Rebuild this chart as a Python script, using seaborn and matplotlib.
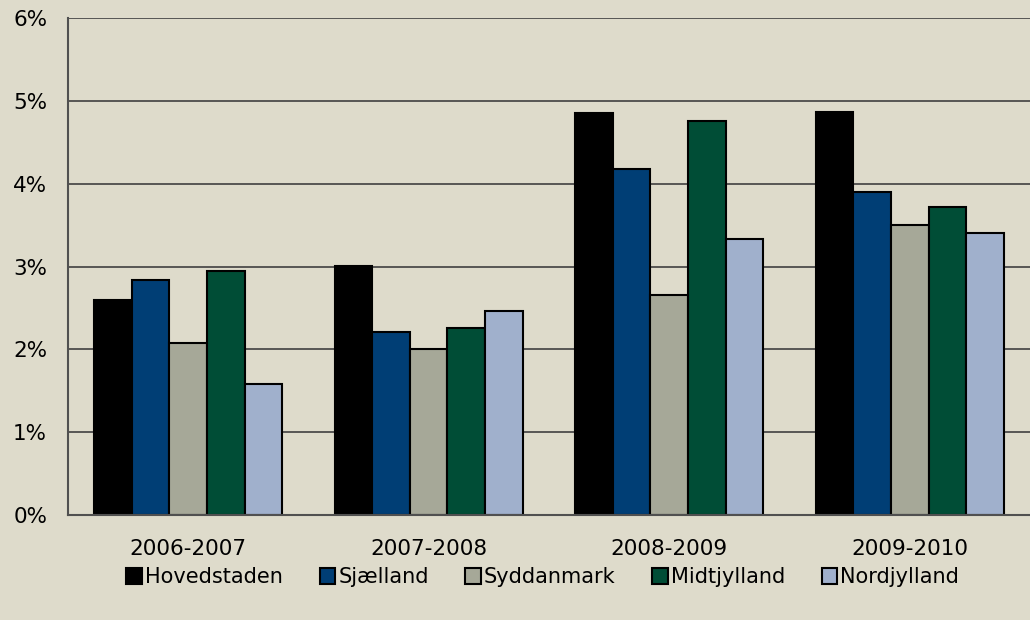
import matplotlib
matplotlib.use("Agg")
import matplotlib.pyplot as plt
from matplotlib.ticker import FuncFormatter, FixedLocator
import seaborn as sns
import pandas as pd

# values (percent)
periods = ["2006-2007", "2007-2008", "2008-2009", "2009-2010"]
regions = ["Hovedstaden", "Sjælland", "Syddanmark", "Midtjylland", "Nordjylland"]
hovedstaden = [2.60, 3.01, 4.85, 4.86]
sjaelland = [2.84, 2.21, 4.18, 3.90]
syddanmark = [2.08, 2.00, 2.66, 3.50]
midtjylland = [2.95, 2.26, 4.76, 3.72]
nordjylland = [1.58, 2.47, 3.33, 3.40]
colors = ["#000000", "#003E75", "#A6A898", "#004D36", "#A0B0CC"]

series = [hovedstaden, sjaelland, syddanmark, midtjylland, nordjylland]
rows = []
for reg, vals in zip(regions, series):
    for p, v in zip(periods, vals):
        rows.append({"period": p, "region": reg, "value": v})
df = pd.DataFrame(rows)

bg = "#DEDBCB"
sns.set_style("white")
plt.rcParams["font.family"] = ["DejaVu Sans"]

fig = plt.figure(figsize=(10.3, 6.2), dpi=100, facecolor=bg)
ax = fig.add_axes([0.066, 0.169, 0.934, 0.802])
ax.set_facecolor(bg)

sns.barplot(data=df, x="period", y="value", hue="region", order=periods,
            hue_order=regions, palette=colors, width=0.78, ax=ax,
            edgecolor="black", linewidth=1.5, saturation=1, legend=False)

ax.set_ylim(0, 6)
ax.set_xlim(-0.5, 3.5)
ax.set_yticks(range(0, 7))
ax.yaxis.set_major_formatter(FuncFormatter(lambda v, _: f"{int(v)}%"))
ax.grid(axis="y", color="#404040", linewidth=1.2, zorder=0)
ax.set_axisbelow(True)

ax.xaxis.set_minor_locator(FixedLocator([-0.5, 0.5, 1.5, 2.5, 3.5]))
ax.tick_params(axis="x", which="major", length=0, pad=17, labelsize=15.5,
               labelcolor="black")
ax.tick_params(axis="x", which="minor", length=5, width=1, color="#505050")
ax.tick_params(axis="y", length=5, width=1, color="#505050", labelsize=15.5,
               pad=10, labelcolor="black")
ax.set_xlabel("")
ax.set_ylabel("")

for s in ["top", "right"]:
    ax.spines[s].set_visible(False)
for s in ["left", "bottom"]:
    ax.spines[s].set_color("#505050")
    ax.spines[s].set_linewidth(1.5)

handles = [plt.Rectangle((0, 0), 1, 1, facecolor=c, edgecolor="black", linewidth=1.5)
           for c in colors]
fig.legend(handles, regions, loc="center", bbox_to_anchor=(0.527, 0.069), ncol=5,
           frameon=False, fontsize=15, handlelength=0.75, handleheight=0.75,
           handletextpad=0.15, columnspacing=1.75, labelcolor="black")

fig.savefig("out.png", dpi=100, facecolor=bg)
